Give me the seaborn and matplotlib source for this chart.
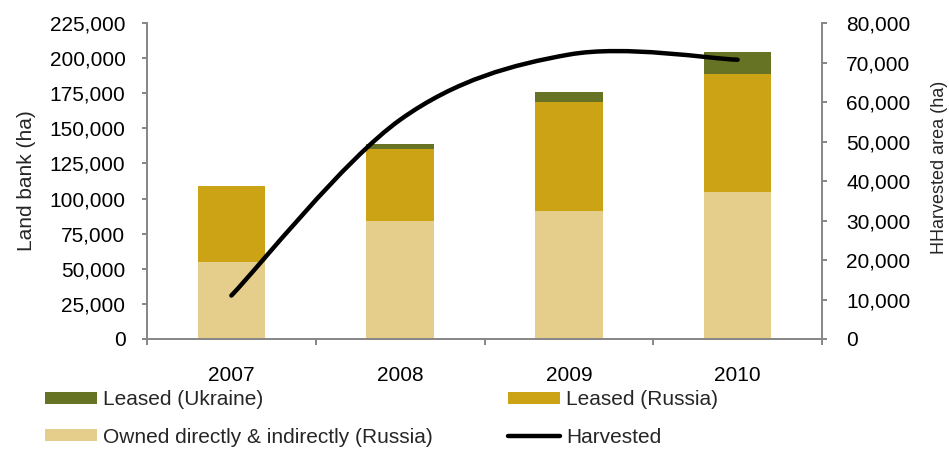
import matplotlib
matplotlib.use("Agg")
import matplotlib.pyplot as plt
from matplotlib.path import Path
from matplotlib.patches import PathPatch, Patch
from matplotlib.lines import Line2D
from matplotlib.ticker import FuncFormatter, FixedLocator
import numpy as np
import pandas as pd
import seaborn as sns

# Land bank by year (ha)
years = ["2007", "2008", "2009", "2010"]
owned_russia = [55000, 84000, 91000, 105000]
leased_russia = [54000, 51000, 78000, 83500]
leased_ukraine = [0, 4000, 7000, 15500]
# Harvested area (ha), right axis
harvested = [11000, 55500, 72000, 70700]

c_ukraine = "#667325"
c_leased = "#CBA315"
c_owned = "#E5CE8C"
c_axis = "#868686"

sns.set_theme(style="white")
plt.rcParams["font.family"] = ["Liberation Sans", "DejaVu Sans"]
FS = 15

df = pd.DataFrame({
    "year": years,
    "owned": owned_russia,
    "leased": leased_russia,
    "ukraine": leased_ukraine,
})
df["lvl2"] = df["owned"] + df["leased"]
df["lvl3"] = df["lvl2"] + df["ukraine"]

fig = plt.figure(figsize=(9.49, 4.49), dpi=100)
ax = fig.add_axes([147 / 949, 1 - 339 / 449, 675 / 949, 316 / 449])

# stacked bars: draw cumulative totals back to front
for col, colr in [("lvl3", c_ukraine), ("lvl2", c_leased), ("owned", c_owned)]:
    sns.barplot(data=df, x="year", y=col, color=colr, saturation=1,
                width=0.4, errorbar=None, ax=ax, linewidth=0)

ax.set_xlim(-0.5, 3.5)
ax.set_ylim(0, 225000)
ax.yaxis.set_major_locator(FixedLocator(np.arange(0, 225001, 25000)))
ax.yaxis.set_major_formatter(FuncFormatter(lambda v, p: f"{int(v):,}"))
ax.set_xlabel("")
ax.set_ylabel("")

# category boundaries as ticks, labels centred between them
ax.xaxis.set_major_locator(FixedLocator([-0.5, 0.5, 1.5, 2.5, 3.5]))
ax.xaxis.set_major_formatter(FuncFormatter(lambda v, p: ""))
ax.xaxis.set_minor_locator(FixedLocator([0, 1, 2, 3]))
ax.xaxis.set_minor_formatter(FuncFormatter(lambda v, p: years[int(round(v))]))
ax.tick_params(axis="x", which="major", direction="out", length=4,
               width=1.4, color=c_axis, bottom=True)
ax.tick_params(axis="x", which="minor", length=0, pad=19.5, labelsize=FS,
               labelcolor="black", bottom=True)
ax.tick_params(axis="y", direction="out", length=3.5, width=1.4,
               color=c_axis, pad=12, labelsize=FS, labelcolor="black", left=True)

for s in ["top", "right"]:
    ax.spines[s].set_visible(False)
for s in ["left", "bottom"]:
    ax.spines[s].set_color(c_axis)
    ax.spines[s].set_linewidth(1.4)

ax2 = ax.twinx()
ax2.set_ylim(0, 80000)
ax2.yaxis.set_major_locator(FixedLocator(np.arange(0, 80001, 10000)))
ax2.yaxis.set_major_formatter(FuncFormatter(lambda v, p: f"{int(v):,}"))
ax2.tick_params(axis="y", direction="out", length=3.5, width=1.4,
                color=c_axis, pad=14, labelsize=FS, labelcolor="black", right=True)
for s in ["top", "left", "bottom"]:
    ax2.spines[s].set_visible(False)
ax2.spines["right"].set_color(c_axis)
ax2.spines["right"].set_linewidth(1.4)
ax2.grid(False)
ax.grid(False)

# smoothed harvested line (cubic Bezier segments through the data points)
xs = np.arange(len(harvested), dtype=float)
ys = np.array(harvested, dtype=float)
pts = np.column_stack([xs, ys])
verts = [pts[0]]
codes = [Path.MOVETO]
n = len(pts)
for i in range(n - 1):
    p_prev = pts[i - 1] if i > 0 else pts[i]
    p_next2 = pts[i + 2] if i + 2 < n else pts[i + 1]
    c1 = pts[i] + (pts[i + 1] - p_prev) / 6.0
    c2 = pts[i + 1] - (p_next2 - pts[i]) / 6.0
    verts += [c1, c2, pts[i + 1]]
    codes += [Path.CURVE4] * 3
curve = PathPatch(Path(verts, codes), facecolor="none", edgecolor="black",
                  linewidth=3.2, capstyle="round", joinstyle="round", zorder=5)
ax2.add_patch(curve)

fig.text(27 / 949, 1 - 181 / 449, "Land bank (ha)", rotation=90,
         ha="center", va="center", fontsize=FS)
fig.text(939 / 949, 1 - 167 / 449, "HHarvested area (ha)", rotation=90,
         ha="center", va="center", fontsize=13)

handles = [
    Patch(facecolor=c_ukraine, edgecolor="none"),
    Patch(facecolor=c_owned, edgecolor="none"),
    Patch(facecolor=c_leased, edgecolor="none"),
    Line2D([0], [0], color="black", linewidth=3.2, solid_capstyle="round"),
]
labels = ["Leased (Ukraine)", "Owned directly & indirectly (Russia)",
          "Leased (Russia)", "Harvested"]
fig.legend(handles, labels, ncol=2, loc="upper left",
           bbox_to_anchor=(45 / 949, 1 - 390 / 449), frameon=False,
           fontsize=FS, handlelength=2.5, handleheight=0.5,
           handletextpad=0.3, labelspacing=0.9, columnspacing=3.6,
           borderpad=0, borderaxespad=0)

fig.savefig("out.png", dpi=100)
